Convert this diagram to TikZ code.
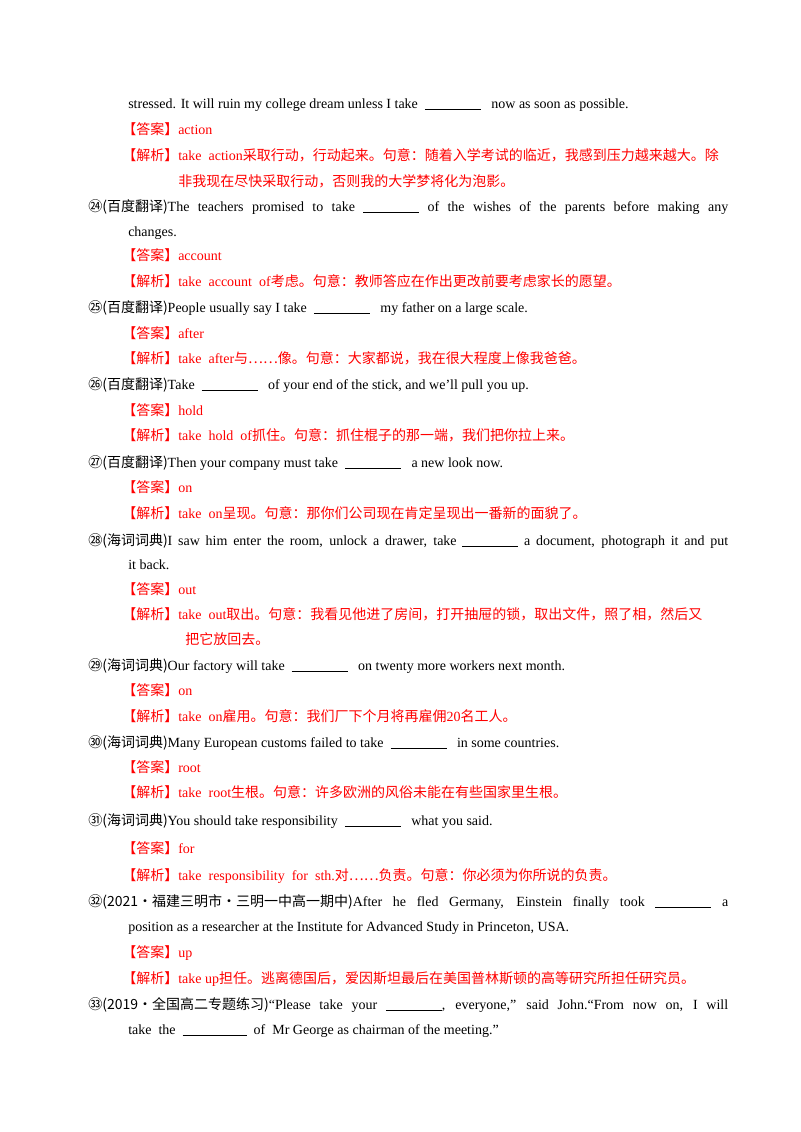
\documentclass[tikz,border=0pt]{standalone}
\usepackage{fontspec}
\setmainfont{Liberation Serif}
\newfontfamily\cjk{Noto Sans CJK SC}
\newcommand{\zh}[1]{{\cjk #1}}
\newcommand{\bl}{\rule[-1.5pt]{42pt}{0.4pt}}
\begin{document}
\begin{tikzpicture}[x=0.75pt,y=-0.75pt,
  ln/.style={anchor=base west,inner sep=0pt,font=\fontsize{10.5}{12}\selectfont},
  rd/.style={ln,text=red}]
\useasboundingbox (0,0) rectangle (800,1132);
\newcommand{\J}[1]{\makebox[600\dimexpr0.75pt\relax][s]{#1}}
\node[ln] (l1) at (128,108) {stressed. It will ruin my college dream unless I take\ \ \bl\ \ \ now as soon as possible.};
\node[rd] (l2) at (122,134) {\zh{【答案】}action};
\node[rd] (l3) at (122,160) {\zh{【解析】}take\ \ action\zh{采取行动，行动起来。句意：随着入学考试的临近，我感到压力越来越大。除}};
\node[rd] (l4) at (178,186) {\zh{非我现在尽快采取行动，否则我的大学梦将化为泡影。}};
\node[ln] (l5) at (88,211) {\makebox[480pt][s]{\zh{㉔(百度翻译)}The teachers promised to take \bl{} of the wishes of the parents before making any}};
\node[ln] (l6) at (128,236) {changes.};
\node[rd] (l7) at (122,260) {\zh{【答案】}account};
\node[rd] (l8) at (122,286) {\zh{【解析】}take\ \ account\ \ of\zh{考虑。句意：教师答应在作出更改前要考虑家长的愿望。}};
\node[ln] (l9) at (88,312) {\zh{㉕(百度翻译)}People usually say I take\ \ \bl\ \ \ my father on a large scale.};
\node[rd] (l10) at (122,338) {\zh{【答案】}after};
\node[rd] (l11) at (122,363) {\zh{【解析】}take\ \ after\zh{与……像。句意：大家都说，我在很大程度上像我爸爸。}};
\node[ln] (l12) at (88,389) {\zh{㉖(百度翻译)}Take\ \ \bl\ \ \ of your end of the stick, and we'll pull you up.};
\node[rd] (l13) at (122,415) {\zh{【答案】}hold};
\node[rd] (l14) at (122,440) {\zh{【解析】}take\ \ hold\ \ of\zh{抓住。句意：抓住棍子的那一端，我们把你拉上来。}};
\node[ln] (l15) at (88,467) {\zh{㉗(百度翻译)}Then your company must take\ \ \bl\ \ \ a new look now.};
\node[rd] (l16) at (122,492) {\zh{【答案】}on};
\node[rd] (l17) at (122,518) {\zh{【解析】}take\ \ on\zh{呈现。句意：那你们公司现在肯定呈现出一番新的面貌了。}};
\node[ln] (l18) at (88,545) {\makebox[480pt][s]{\zh{㉘(海词词典)}I saw him enter the room, unlock a drawer, take \bl{} a document, photograph it and put}};
\node[ln] (l19) at (128,569) {it back.};
\node[rd] (l20) at (122,594) {\zh{【答案】}out};
\node[rd] (l21) at (122,619) {\zh{【解析】}take\ \ out\zh{取出。句意：我看见他进了房间，打开抽屉的锁，取出文件，照了相，然后又}};
\node[rd] (l22) at (185,644) {\zh{把它放回去。}};
\node[ln] (l23) at (88,670) {\zh{㉙(海词词典)}Our factory will take\ \ \bl\ \ \ on twenty more workers next month.};
\node[rd] (l24) at (122,695) {\zh{【答案】}on};
\node[rd] (l25) at (122,721) {\zh{【解析】}take\ \ on\zh{雇用。句意：我们厂下个月将再雇佣}20\zh{名工人。}};
\node[ln] (l26) at (88,747) {\zh{㉚(海词词典)}Many European customs failed to take\ \ \bl\ \ \ in some countries.};
\node[rd] (l27) at (122,772) {\zh{【答案】}root};
\node[rd] (l28) at (122,797) {\zh{【解析】}take\ \ root\zh{生根。句意：许多欧洲的风俗未能在有些国家里生根。}};
\node[ln] (l29) at (88,825) {\zh{㉛(海词词典)}You should take responsibility\ \ \bl\ \ \ what you said.};
\node[rd] (l30) at (122,853) {\zh{【答案】}for};
\node[rd] (l31) at (122,880) {\zh{【解析】}take\ \ responsibility\ \ for\ \ sth.\zh{对……负责。句意：你必须为你所说的负责。}};
\node[ln] (l32) at (88,906) {\makebox[480pt][s]{\zh{㉜(2021·福建三明市·三明一中高一期中)}After he fled Germany, Einstein finally took \bl{} a}};
\node[ln] (l33) at (128,931) {position as a researcher at the Institute for Advanced Study in Princeton, USA.};
\node[rd] (l34) at (122,957) {\zh{【答案】}up};
\node[rd] (l35) at (122,983) {\zh{【解析】}take up\zh{担任。逃离德国后，爱因斯坦最后在美国普林斯顿的高等研究所担任研究员。}};
\node[ln] (l36) at (88,1009) {\makebox[480pt][s]{\zh{㉝(2019·全国高二专题练习)}“Please take your \bl, everyone,” said John.“From now on, I will}};
\node[ln] (l37) at (128,1034) {take\ \ the\ \ \rule[-1.5pt]{48pt}{0.4pt}\ \ of\ \ Mr George as chairman of the meeting.”};
\end{tikzpicture}
\end{document}
